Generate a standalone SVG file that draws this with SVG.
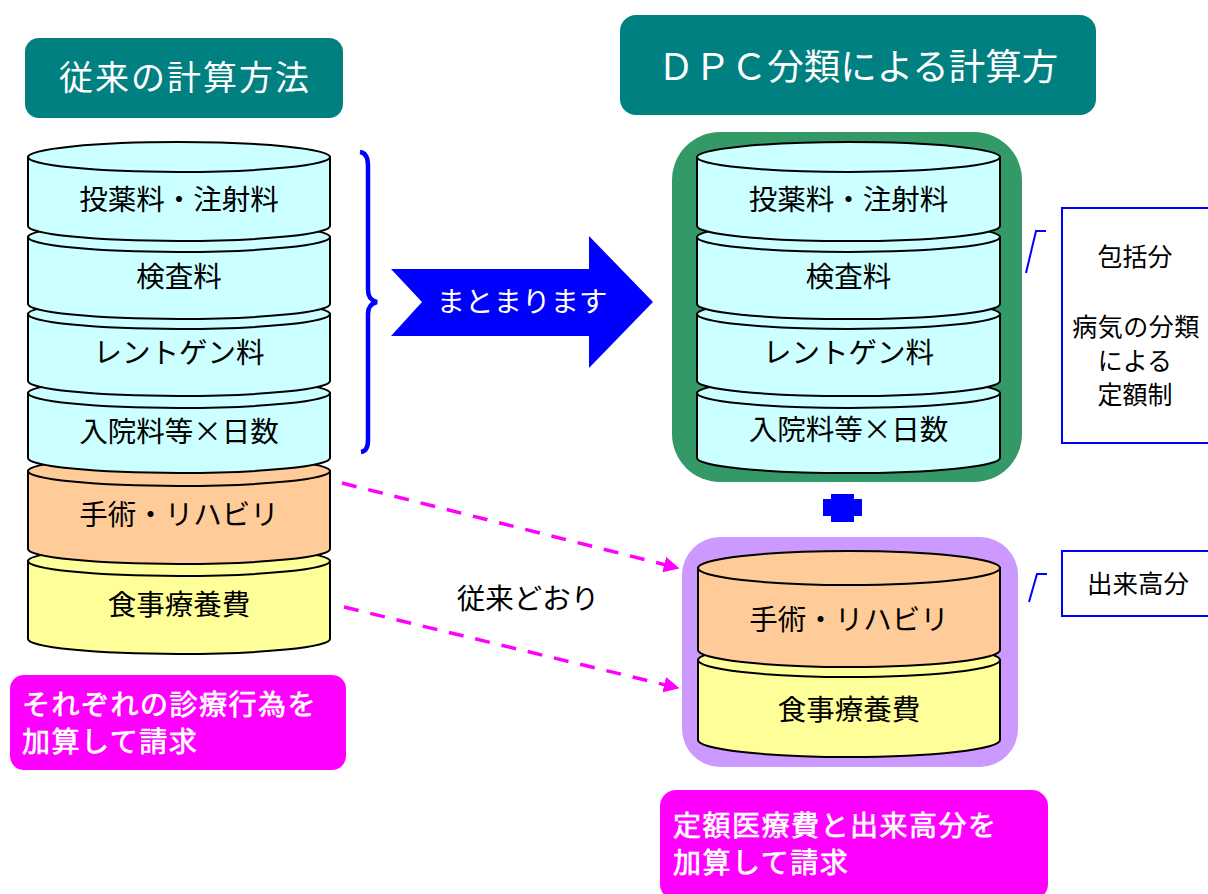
<svg xmlns="http://www.w3.org/2000/svg" width="1208" height="894" viewBox="0 0 1208 894">
<style>
.t{font-family:"Noto Sans CJK JP","Liberation Sans",sans-serif;text-anchor:middle;fill:#000}
.c{stroke:#000;stroke-width:2}
.cy{fill:#CCFFFF}.or{fill:#FFCC99}.ye{fill:#FFFF99}
.w{fill:#fff;font-family:"Noto Sans CJK JP","Liberation Sans",sans-serif}
.n{font-size:28px;letter-spacing:1.5px;stroke:#fff;stroke-width:0.7}
.bl{fill:none;stroke:#0000FF;stroke-width:2}
</style>
<defs>
<marker id="ah" viewBox="0 0 10 10" refX="9" refY="5" markerWidth="4.5" markerHeight="4.5" orient="auto" markerUnits="strokeWidth">
<path d="M0,0 L10,5 L0,10 Z" fill="#FF00FF"/>
</marker>
</defs>

<rect width="1208" height="894" fill="#fff"/>

<g id="title-left">
<rect x="25" y="38" width="318" height="80" rx="14" fill="#008080"/>
<text class="w" x="185" y="90" font-size="34" letter-spacing="2" text-anchor="middle">従来の計算方法</text>
</g>
<g id="title-right">
<rect x="620" y="15" width="476" height="100" rx="16" fill="#008080"/>
<text class="w" x="858" y="80" font-size="36.5" text-anchor="middle">ＤＰＣ分類による計算方</text>
</g>

<g id="left-stack">
<g id="l6"><path class="c ye" d="M28,561 L28,639 A151,15 0 0 0 330,639 L330,561 Z"/><ellipse class="c ye" cx="179" cy="561" rx="151" ry="15"/><text class="t" x="179" y="615" font-size="28.5">食事療養費</text></g>
<g id="l5"><path class="c or" d="M28,471 L28,549 A151,15 0 0 0 330,549 L330,471 Z"/><ellipse class="c or" cx="179" cy="471" rx="151" ry="15"/><text class="t" x="179" y="525" font-size="28.5">手術・リハビリ</text></g>
<g id="l4"><path class="c cy" d="M28,393 L28,458 A151,15 0 0 0 330,458 L330,393 Z"/><ellipse class="c cy" cx="179" cy="393" rx="151" ry="15"/><text class="t" x="179" y="442" font-size="28.5">入院料等×日数</text></g>
<g id="l3"><path class="c cy" d="M28,314 L28,381 A151,15 0 0 0 330,381 L330,314 Z"/><ellipse class="c cy" cx="179" cy="314" rx="151" ry="15"/><text class="t" x="179" y="363" font-size="28.5">レントゲン料</text></g>
<g id="l2"><path class="c cy" d="M28,237 L28,304 A151,15 0 0 0 330,304 L330,237 Z"/><ellipse class="c cy" cx="179" cy="237" rx="151" ry="15"/><text class="t" x="179" y="287" font-size="28.5">検査料</text></g>
<g id="l1"><path class="c cy" d="M28,157 L28,226 A151,15 0 0 0 330,226 L330,157 Z"/><ellipse class="c cy" cx="179" cy="157" rx="151" ry="15"/><text class="t" x="179" y="210" font-size="28.5">投薬料・注射料</text></g>
</g>

<g id="right-upper">
<rect x="672" y="132" width="350" height="350" rx="48" fill="#339966"/>
<g id="r4"><path class="c cy" d="M697,393 L697,458 A151,15 0 0 0 1000,458 L1000,393 Z"/><ellipse class="c cy" cx="848.5" cy="393" rx="151.5" ry="15"/><text class="t" x="848.5" y="440" font-size="28.5">入院料等×日数</text></g>
<g id="r3"><path class="c cy" d="M697,314 L697,381 A151,15 0 0 0 1000,381 L1000,314 Z"/><ellipse class="c cy" cx="848.5" cy="314" rx="151.5" ry="15"/><text class="t" x="848.5" y="363" font-size="28.5">レントゲン料</text></g>
<g id="r2"><path class="c cy" d="M697,237 L697,304 A151,15 0 0 0 1000,304 L1000,237 Z"/><ellipse class="c cy" cx="848.5" cy="237" rx="151.5" ry="15"/><text class="t" x="848.5" y="287" font-size="28.5">検査料</text></g>
<g id="r1"><path class="c cy" d="M697,157 L697,226 A151,15 0 0 0 1000,226 L1000,157 Z"/><ellipse class="c cy" cx="848.5" cy="157" rx="151.5" ry="15"/><text class="t" x="848.5" y="210" font-size="28.5">投薬料・注射料</text></g>
</g>

<g id="plus">
<path d="M831,494 L854,494 L854,499 L862,499 L862,516 L854,516 L854,522 L831,522 L831,516 L823,516 L823,499 L831,499 Z" fill="#0000FF"/>
</g>

<g id="right-lower">
<rect x="682" y="537" width="336" height="230" rx="38" fill="#CC99FF"/>
<g id="r6"><path class="c ye" d="M698,660 L698,740 A151,17 0 0 0 1000,740 L1000,660 Z"/><ellipse class="c ye" cx="849" cy="660" rx="151" ry="17"/><text class="t" x="849" y="720" font-size="28.5">食事療養費</text></g>
<g id="r5"><path class="c or" d="M698,568 L698,650 A151,17 0 0 0 1000,650 L1000,568 Z"/><ellipse class="c or" cx="849" cy="568" rx="151" ry="17"/><text class="t" x="849" y="630" font-size="28.5">手術・リハビリ</text></g>
</g>

<g id="box-hokatsu">
<rect x="1062" y="208" width="160" height="235" fill="#fff" stroke="#0000FF" stroke-width="2"/>
<text class="t" x="1135" y="266" font-size="25">包括分</text>
<text class="t" x="1136" y="336" font-size="25" letter-spacing="0.5">病気の分類</text>
<text class="t" x="1135" y="370" font-size="25">による</text>
<text class="t" x="1135" y="404" font-size="25">定額制</text>
</g>
<g id="box-dekidaka">
<rect x="1062" y="551" width="160" height="65" fill="#fff" stroke="#0000FF" stroke-width="2"/>
<text class="t" x="1138" y="593" font-size="25.5">出来高分</text>
</g>

<g id="note-left">
<rect x="10" y="675" width="336" height="95" rx="14" fill="#FF00FF"/>
<text class="w n" x="22" y="715">それぞれの診療行為を</text>
<text class="w n" x="22" y="752">加算して請求</text>
</g>
<g id="note-right">
<rect x="660" y="790" width="388" height="110" rx="16" fill="#FF00FF"/>
<text class="w n" x="673" y="836">定額医療費と出来高分を</text>
<text class="w n" x="673" y="873">加算して請求</text>
</g>

<g id="arrow-matome">
<path d="M391,269 L589,269 L589,236 L653,302 L589,368 L589,336 L391,336 L422,302 Z" fill="#0000FF"/>
<text class="w" x="522" y="312" font-size="28.5" text-anchor="middle">まとまります</text>
</g>

<g id="connectors">
<path d="M360,152 Q368,153 368,166 L368,290 Q368,300 377,302 Q368,304 368,314 L368,440 Q368,451 361,452" fill="none" stroke="#0000FF" stroke-width="4.5"/>
<path d="M1026,273 L1036,231 L1046,231" class="bl"/>
<path d="M1029,602 L1037,574 L1047,574" class="bl"/>
<line x1="342" y1="483" x2="678" y2="568" stroke="#FF00FF" stroke-width="3.5" stroke-dasharray="15,12" marker-end="url(#ah)"/>
<line x1="344" y1="607" x2="678" y2="688" stroke="#FF00FF" stroke-width="3.5" stroke-dasharray="15,12" marker-end="url(#ah)"/>
</g>

<g id="label-juurai">
<text class="t" x="528" y="609" font-size="28.5">従来どおり</text>
</g>
</svg>
